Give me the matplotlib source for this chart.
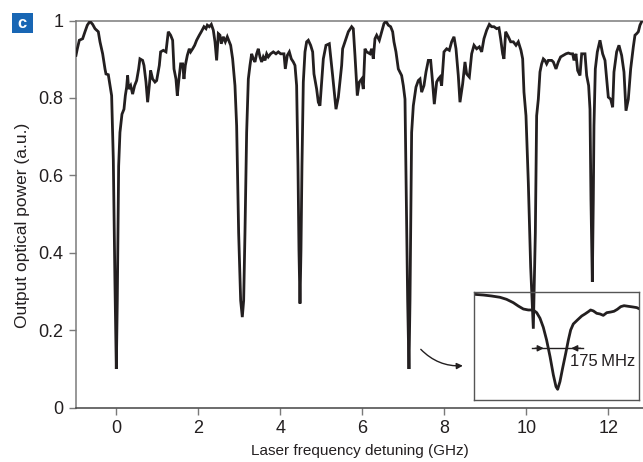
import matplotlib
matplotlib.use("Agg")
import matplotlib.pyplot as plt
from matplotlib.patches import FancyBboxPatch

plt.rcParams['font.family'] = ['Liberation Sans', 'DejaVu Sans']

# --- main trace: laser frequency detuning (GHz) vs output power (a.u.) ---
detuning = [
    -0.984, -0.951, -0.902, -0.821, -0.764, -0.707, -0.642, -0.577, -0.520, -0.439,
    -0.398, -0.333, -0.276, -0.252, -0.195, -0.154, -0.114, -0.073, -0.033, 0.000,
    0.024, 0.057, 0.089, 0.138, 0.187, 0.220, 0.252, 0.276, 0.301, 0.350,
    0.398, 0.447, 0.496, 0.545, 0.577, 0.642, 0.675, 0.724, 0.764, 0.805,
    0.837, 0.886, 0.943, 0.984, 1.049, 1.081, 1.146, 1.211, 1.268, 1.325,
    1.374, 1.407, 1.455, 1.488, 1.520, 1.569, 1.618, 1.650, 1.683, 1.732,
    1.780, 1.813, 1.862, 1.911, 1.959, 2.024, 2.073, 2.138, 2.187, 2.220,
    2.268, 2.317, 2.366, 2.407, 2.447, 2.488, 2.528, 2.561, 2.610, 2.659,
    2.707, 2.756, 2.789, 2.837, 2.894, 2.935, 2.984, 3.033, 3.073, 3.106,
    3.138, 3.179, 3.220, 3.260, 3.301, 3.341, 3.382, 3.423, 3.463, 3.504,
    3.545, 3.585, 3.626, 3.667, 3.707, 3.764, 3.829, 3.894, 3.951, 4.008,
    4.089, 4.122, 4.171, 4.220, 4.268, 4.317, 4.358, 4.398, 4.431, 4.455,
    4.480, 4.504, 4.528, 4.561, 4.602, 4.642, 4.683, 4.740, 4.789, 4.821,
    4.886, 4.927, 4.967, 5.049, 5.114, 5.195, 5.276, 5.358, 5.415, 5.496,
    5.520, 5.577, 5.659, 5.740, 5.780, 5.821, 5.878, 5.927, 5.984, 6.024,
    6.065, 6.106, 6.187, 6.228, 6.268, 6.309, 6.350, 6.415, 6.472, 6.528,
    6.577, 6.634, 6.691, 6.740, 6.772, 6.821, 6.878, 6.959, 7.000, 7.041,
    7.073, 7.106, 7.138, 7.163, 7.187, 7.203, 7.244, 7.309, 7.366, 7.407,
    7.447, 7.504, 7.553, 7.610, 7.667, 7.707, 7.756, 7.813, 7.854, 7.894,
    7.935, 7.992, 8.057, 8.122, 8.179, 8.236, 8.285, 8.341, 8.382, 8.447,
    8.504, 8.545, 8.610, 8.667, 8.724, 8.789, 8.854, 8.911, 8.967, 9.033,
    9.098, 9.154, 9.211, 9.276, 9.333, 9.374, 9.423, 9.455, 9.496, 9.561,
    9.618, 9.683, 9.748, 9.805, 9.870, 9.911, 9.943, 9.992, 10.049, 10.106,
    10.171, 10.220, 10.252, 10.293, 10.333, 10.374, 10.415, 10.455, 10.496, 10.537,
    10.618, 10.659, 10.724, 10.780, 10.837, 10.902, 10.967, 11.024, 11.081, 11.130,
    11.163, 11.211, 11.252, 11.309, 11.350, 11.431, 11.472, 11.520, 11.553, 11.577,
    11.610, 11.634, 11.650, 11.683, 11.732, 11.797, 11.862, 11.919, 11.959, 12.000,
    12.057, 12.106, 12.138, 12.203, 12.260, 12.325, 12.382, 12.431, 12.488, 12.545,
    12.610, 12.650, 12.691, 12.732, 12.772, 12.813,
]
power = [
    0.910, 0.927, 0.949, 0.953, 0.971, 0.988, 0.998, 0.990, 0.979, 0.971,
    0.945, 0.914, 0.875, 0.862, 0.860, 0.832, 0.806, 0.641, 0.321, 0.100,
    0.277, 0.624, 0.711, 0.758, 0.771, 0.806, 0.828, 0.858, 0.823, 0.832,
    0.810, 0.832, 0.845, 0.875, 0.901, 0.897, 0.884, 0.841, 0.789, 0.832,
    0.871, 0.849, 0.841, 0.845, 0.884, 0.919, 0.923, 0.919, 0.971, 0.962,
    0.949, 0.875, 0.849, 0.806, 0.841, 0.888, 0.888, 0.849, 0.884, 0.910,
    0.927, 0.919, 0.927, 0.936, 0.949, 0.962, 0.971, 0.984, 0.979, 0.988,
    0.984, 0.990, 0.975, 0.945, 0.897, 0.966, 0.962, 0.940, 0.958, 0.945,
    0.958, 0.945, 0.936, 0.901, 0.832, 0.728, 0.451, 0.277, 0.234, 0.277,
    0.451, 0.711, 0.849, 0.884, 0.914, 0.901, 0.893, 0.914, 0.927, 0.906,
    0.893, 0.906, 0.897, 0.914, 0.906, 0.914, 0.919, 0.914, 0.919, 0.914,
    0.914, 0.875, 0.910, 0.919, 0.901, 0.893, 0.884, 0.832, 0.624, 0.407,
    0.269, 0.407, 0.624, 0.841, 0.919, 0.945, 0.949, 0.936, 0.919, 0.862,
    0.823, 0.789, 0.780, 0.901, 0.936, 0.940, 0.858, 0.771, 0.802, 0.884,
    0.927, 0.945, 0.971, 0.984, 0.979, 0.910, 0.806, 0.841, 0.849, 0.823,
    0.927, 0.919, 0.914, 0.927, 0.901, 0.953, 0.962, 0.949, 0.971, 0.992,
    0.998, 0.988, 0.984, 0.971, 0.945, 0.919, 0.875, 0.858, 0.832, 0.797,
    0.537, 0.277, 0.100, 0.277, 0.537, 0.711, 0.780, 0.828, 0.845, 0.849,
    0.815, 0.832, 0.867, 0.897, 0.897, 0.849, 0.784, 0.841, 0.849, 0.854,
    0.832, 0.919, 0.927, 0.923, 0.945, 0.958, 0.927, 0.858, 0.789, 0.836,
    0.893, 0.862, 0.854, 0.914, 0.936, 0.927, 0.932, 0.919, 0.953, 0.975,
    0.990, 0.984, 0.984, 0.979, 0.981, 0.953, 0.914, 0.901, 0.971, 0.958,
    0.945, 0.945, 0.936, 0.945, 0.923, 0.901, 0.815, 0.754, 0.581, 0.364,
    0.204, 0.451, 0.754, 0.797, 0.867, 0.888, 0.901, 0.897, 0.888, 0.897,
    0.897, 0.893, 0.875, 0.893, 0.906, 0.910, 0.914, 0.916, 0.914, 0.914,
    0.897, 0.914, 0.871, 0.858, 0.914, 0.914, 0.858, 0.832, 0.771, 0.537,
    0.325, 0.537, 0.728, 0.875, 0.919, 0.949, 0.914, 0.897, 0.849, 0.802,
    0.797, 0.776, 0.867, 0.919, 0.936, 0.910, 0.867, 0.767, 0.797, 0.875,
    0.932, 0.962, 0.966, 0.971, 0.988, 0.997,
]

# --- inset: zoom on one resonance (normalised units) ---
inset_x = [
    0.004, 0.055, 0.105, 0.156, 0.196, 0.237, 0.267, 0.298, 0.328, 0.358,
    0.379, 0.399, 0.419, 0.439, 0.460, 0.480, 0.496, 0.506, 0.520, 0.536,
    0.555, 0.571, 0.585, 0.601, 0.626, 0.652, 0.672, 0.692, 0.706, 0.723,
    0.743, 0.763, 0.783, 0.804, 0.828, 0.848, 0.868, 0.889, 0.909, 0.935,
    0.962, 0.986, 1.000,
]
inset_y = [
    0.981, 0.975, 0.966, 0.954, 0.935, 0.904, 0.873, 0.845, 0.836, 0.836,
    0.811, 0.759, 0.675, 0.557, 0.402, 0.232, 0.124, 0.099, 0.170, 0.294,
    0.433, 0.557, 0.650, 0.706, 0.743, 0.780, 0.799, 0.820, 0.836, 0.827,
    0.805, 0.799, 0.786, 0.811, 0.817, 0.824, 0.842, 0.867, 0.876, 0.870,
    0.864, 0.858, 0.848,
]
fwhm_label = "175\u2009MHz"

x_ticks = [0, 2, 4, 6, 8, 10, 12]
y_ticks = [0, 0.2, 0.4, 0.6, 0.8, 1]
y_ticklabels = ["0", "0.2", "0.4", "0.6", "0.8", "1"]

ink = "#231f20"
spine_grey = "#7a7a7a"

fig = plt.figure(figsize=(6.43, 4.62), dpi=100)
ax = fig.add_axes([0.1182, 0.1175, 0.8818, 0.8381])

ax.plot(detuning, power, color=ink, lw=2.0, solid_joinstyle="miter", zorder=5)

ax.set_xlim(-0.983, 12.846)
ax.set_ylim(0, 1)
ax.set_xticks(x_ticks)
ax.set_yticks(y_ticks)
ax.set_yticklabels(y_ticklabels)
ax.tick_params(axis="both", direction="out", length=5, width=1.0,
               color=spine_grey, labelsize=13, labelcolor=ink, pad=4)
for side in ["left", "bottom", "top"]:
    ax.spines[side].set_color(spine_grey)
    ax.spines[side].set_linewidth(1.1)
ax.spines["bottom"].set_color("#444444")
ax.spines["right"].set_visible(False)

ax.set_xlabel("Laser frequency detuning (GHz)", fontsize=11, color=ink, labelpad=5)
ax.set_ylabel("Output optical power (a.u.)", fontsize=12.5, color=ink)
ax.yaxis.set_label_coords(-0.081, 0.47)

# inset box
ins = ax.inset_axes([8.73, 0.02, 4.02, 0.278], transform=ax.transData)
ins.set_facecolor("none")
ins.plot(inset_x, inset_y, color=ink, lw=2.0)
ins.set_xlim(0, 1)
ins.set_ylim(0, 1)
ins.set_xticks([])
ins.set_yticks([])
for s in ins.spines.values():
    s.set_color("#555555")
    s.set_linewidth(1.0)
ins.plot([0.352, 0.662], [0.48, 0.48], color=ink, lw=1.0)
ins.annotate("", xy=(0.439, 0.48), xytext=(0.352, 0.48),
             arrowprops=dict(arrowstyle="-|>", color=ink, lw=1.0, mutation_scale=9))
ins.annotate("", xy=(0.571, 0.48), xytext=(0.662, 0.48),
             arrowprops=dict(arrowstyle="-|>", color=ink, lw=1.0, mutation_scale=9))
ins.text(0.975, 0.356, fwhm_label, ha="right", va="center", fontsize=12, color=ink)

# curved pointer into the inset
ax.annotate("", xy=(8.52, 0.109), xytext=(7.38, 0.156),
            arrowprops=dict(arrowstyle="-|>", color=ink, lw=1.0, mutation_scale=9,
                            connectionstyle="arc3,rad=0.25"))

# panel letter
fig.patches.append(FancyBboxPatch((12 / 643, 1 - 33 / 462), 21 / 643, 20 / 462,
                                  boxstyle="square,pad=0", transform=fig.transFigure,
                                  facecolor="#1866b4", edgecolor="none"))
fig.text(22.5 / 643, 1 - 23 / 462, "c", ha="center", va="center", color="white",
         fontsize=12, fontweight="bold")

fig.savefig("out.png", dpi=100)
